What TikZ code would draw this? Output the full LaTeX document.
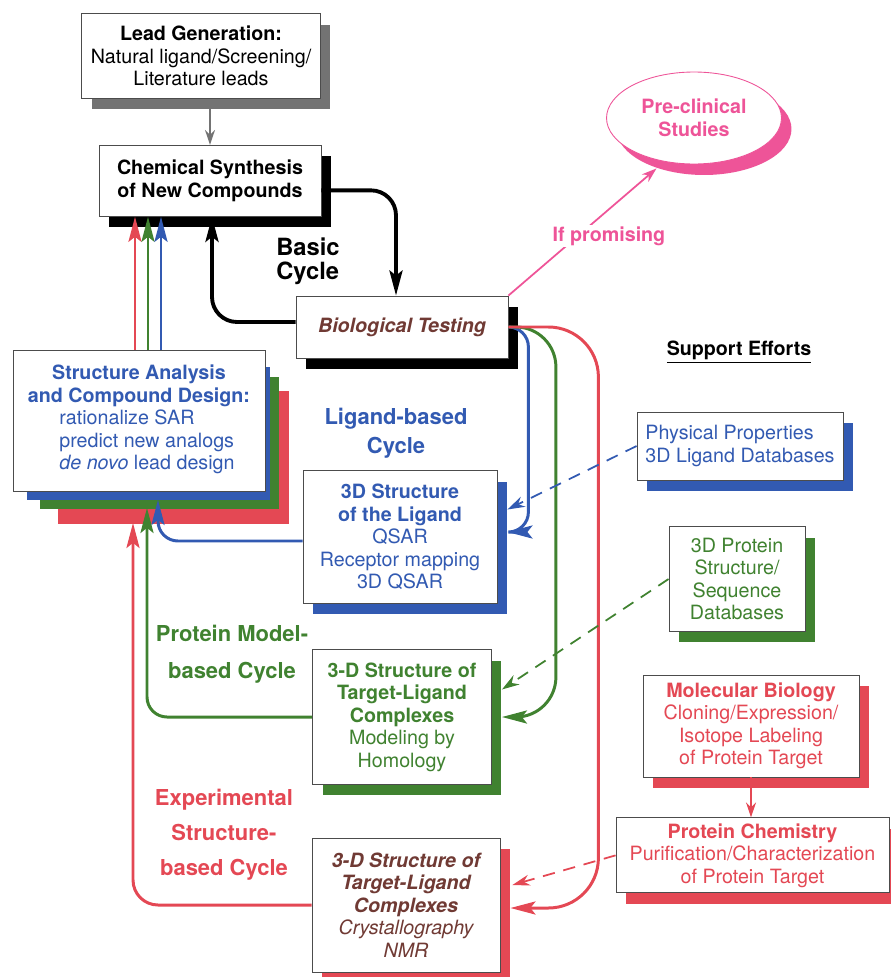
\documentclass[tikz,border=0pt]{standalone}
\usepackage{fontspec}
\setmainfont{TeX Gyre Heros}
\usepackage{tikz}
\usetikzlibrary{positioning, arrows.meta, shapes.geometric, shadows}

\definecolor{dsblue}{RGB}{50,90,178}
\definecolor{dsgreen}{RGB}{64,130,48}
\definecolor{dsred}{RGB}{228,72,84}
\definecolor{dspink}{RGB}{238,84,152}
\definecolor{dsbrown}{RGB}{112,58,52}

\newcommand{\basesize}{\fontsize{11.2}{12.8}\selectfont}
\newcommand{\cyclesize}[1]{\fontsize{12.5}{#1}\selectfont\bfseries}

\tikzset{
  card/.style={rectangle, draw=black!70, line width=0.5pt, fill=white, align=center, inner sep=2pt},
  shadowed/.style={drop shadow={shadow xshift=0.2cm, shadow yshift=-0.22cm, opacity=1, fill=#1}},
  loopline/.style={line width=1.7pt, draw=#1, -{Stealth[length=5mm, width=2.6mm, inset=1mm]}},
  dbline/.style={line width=1pt, draw=#1, dash pattern=on 7pt off 5pt, -{Stealth[length=3.5mm, width=2.2mm]}},
  thinarrow/.style={line width=1pt, draw=#1, -{Stealth[length=3mm, width=2mm]}}
}

\begin{document}
\begin{tikzpicture}[x=0.02cm, y=-0.02cm, font=\basesize]
\useasboundingbox (0,0) rectangle (891,977);

% Main column
\node[card, shadowed=black!55, minimum width=4.78cm, minimum height=1.7cm] (lead) at (201,56) {
    \textbf{Lead Generation:}\\
    Natural ligand/Screening/\\
    Literature leads
};

\node[card, shadowed=black, minimum width=4.44cm, minimum height=1.42cm, font={\basesize\bfseries}, below=0.92cm of lead, xshift=0.18cm] (synth) {
    Chemical Synthesis\\
    of New Compounds
};

\node[card, shadowed=black, minimum width=4.24cm, minimum height=1.24cm, text=dsbrown, font={\basesize\bfseries\itshape}] (bio) at (402,327) {Biological Testing};

\node[ellipse, draw=dspink, line width=0.5pt, fill=white, shadowed=dspink, text=dspink, font={\basesize\bfseries}, align=center, inner sep=1pt, minimum width=3.5cm, minimum height=1.84cm] (preclin) at (694,118) {
    Pre-clinical\\
    Studies
};

% Structure analysis, stacked colour shadows
\fill[dsred] (58,391) rectangle (289,524);
\fill[dsgreen] (40,377) rectangle (279,509);
\fill[dsblue] (27,367) rectangle (270,500);
\node[card, text=dsblue, minimum width=5.04cm, minimum height=2.82cm] (design) at (139,421) {
    \textbf{Structure Analysis}\\
    \textbf{and Compound Design:}\\
    \hspace*{0.32cm}\begin{tabular}[t]{@{}l@{}}
        rationalize SAR\\
        predict new analogs\\
        \textit{de novo} lead design
    \end{tabular}
};

% Structure boxes
\node[card, shadowed=dsblue, text=dsblue, minimum width=3.88cm, minimum height=2.66cm] (ligand) at (400,537) {
    \textbf{3D Structure}\\
    \textbf{of the Ligand}\\
    QSAR\\
    Receptor mapping\\
    3D QSAR
};

\node[card, shadowed=dsgreen, text=dsgreen, minimum width=3.58cm, minimum height=2.7cm] (model) at (402,717) {
    \textbf{3-D Structure of}\\
    \textbf{Target-Ligand}\\
    \textbf{Complexes}\\
    Modeling by\\
    Homology
};

\node[card, shadowed=dsred, text=dsbrown, font={\basesize\itshape}, minimum width=3.76cm, minimum height=2.68cm] (xray) at (406,905) {
    \textbf{3-D Structure of}\\
    \textbf{Target-Ligand}\\
    \textbf{Complexes}\\
    Crystallography\\
    NMR
};

% Cycle labels
\node[font={\fontsize{13.5}{13.6}\selectfont\bfseries}, align=left] (basiclbl) at (308,261) {Basic\\ Cycle};
\node[font=\cyclesize{16.4}, text=dsblue, align=center] (ligandlbl) at (396,433) {Ligand-based\\ Cycle};
\node[font=\cyclesize{21}, text=dsgreen, align=center] (modellbl) at (232,654) {Protein Model-\\ based Cycle};
\node[font=\cyclesize{19.8}, text=dsred, align=center] (xraylbl) at (224,835) {Experimental\\ Structure-\\ based Cycle};

% Support efforts
\node[font={\basesize\bfseries}] (support) at (739,352) {\underline{Support Efforts}};

\node[card, shadowed=dsblue, text=dsblue, align=left, minimum width=4.12cm, minimum height=1.36cm] (phys) at (740,446) {
    Physical Properties\\
    3D Ligand Databases
};

\node[card, shadowed=dsgreen, text=dsgreen, minimum width=2.72cm, minimum height=2.1cm] (protdb) at (737,579) {
    3D Protein\\
    Structure/\\
    Sequence\\
    Databases
};

\node[card, shadowed=dsred, text=dsred, minimum width=4.32cm, minimum height=2.04cm] (molbio) at (751,726) {
    \textbf{Molecular Biology}\\
    Cloning/Expression/\\
    Isotope Labeling\\
    of Protein Target
};

\node[card, shadowed=dsred, text=dsred, minimum width=5.46cm, minimum height=1.5cm, below=0.8cm of molbio, xshift=0.03cm] (protchem) {
    \textbf{Protein Chemistry}\\
    Purification/Characterization\\
    of Protein Target
};

% Basic cycle
\draw[thinarrow=black!55] (lead.south -| synth.north) -- (synth.north);
\draw[loopline=black, line width=2.2pt, rounded corners=0.5cm] ([yshift=-0.19cm]synth.east) -| ([xshift=-0.12cm]bio.north);
\draw[loopline=black, line width=2.2pt, rounded corners=0.5cm] ([yshift=0.1cm]bio.west) -| ([xshift=0.04cm]synth.south);

% Design feeds synthesis
\coordinate (redup) at ([xshift=-0.08cm]design.north);
\coordinate (greenup) at ([xshift=0.18cm]design.north);
\coordinate (blueup) at ([xshift=0.44cm]design.north);
\draw[loopline=dsred] (redup) -- (redup |- synth.south);
\draw[loopline=dsgreen] (greenup) -- (greenup |- synth.south);
\draw[loopline=dsblue] (blueup) -- (blueup |- synth.south);

% Testing feeds structure work
\draw[loopline=dsblue, rounded corners=0.4cm] (bio.east) -| ([xshift=0.62cm, yshift=0.1cm]ligand.east) -- ([xshift=0.2cm, yshift=0.1cm]ligand.east);
\draw[loopline=dsgreen, rounded corners=0.8cm] (bio.east) -| ([xshift=1.28cm]model.east) -- ([xshift=0.2cm]model.east);
\draw[loopline=dsred, rounded corners=1cm] (bio.east) -| ([xshift=1.96cm, yshift=-0.06cm]xray.east) -- ([xshift=0.2cm, yshift=-0.06cm]xray.east);

% Structure work back to design
\coordinate (bluein) at ([xshift=0.38cm, yshift=-0.16cm]design.south);
\coordinate (greenin) at ([xshift=0.16cm, yshift=-0.32cm]design.south);
\coordinate (redin) at ([xshift=-0.12cm, yshift=-0.62cm]design.south);
\draw[loopline=dsblue, rounded corners=0.4cm] ([yshift=-0.08cm]ligand.west) -| (bluein);
\draw[loopline=dsgreen, rounded corners=0.4cm] (model.west) -| (greenin);
\draw[loopline=dsred, rounded corners=0.5cm] (xray.west) -| (redin);

% Support links (dashed)
\draw[dbline=dsblue] (phys.west) -- ([xshift=0.2cm, yshift=0.55cm]ligand.east);
\draw[dbline=dsgreen] (protdb.west) -- ([xshift=0.2cm, yshift=0.55cm]model.east);
\draw[dbline=dsred] (protchem.west) -- ([xshift=0.24cm, yshift=0.4cm]xray.east);
\draw[thinarrow=dsred] (molbio.south) -- (molbio.south |- protchem.north);

% To pre-clinical
\draw[thinarrow=dspink] (bio.north east) -- ([xshift=-0.75cm, yshift=-0.08cm]preclin.south)
    node[pos=0.5, xshift=0.53cm, yshift=-0.08cm, fill=white, inner sep=1pt, font={\basesize\bfseries}, text=dspink] {If promising};

\end{tikzpicture}
\end{document}
